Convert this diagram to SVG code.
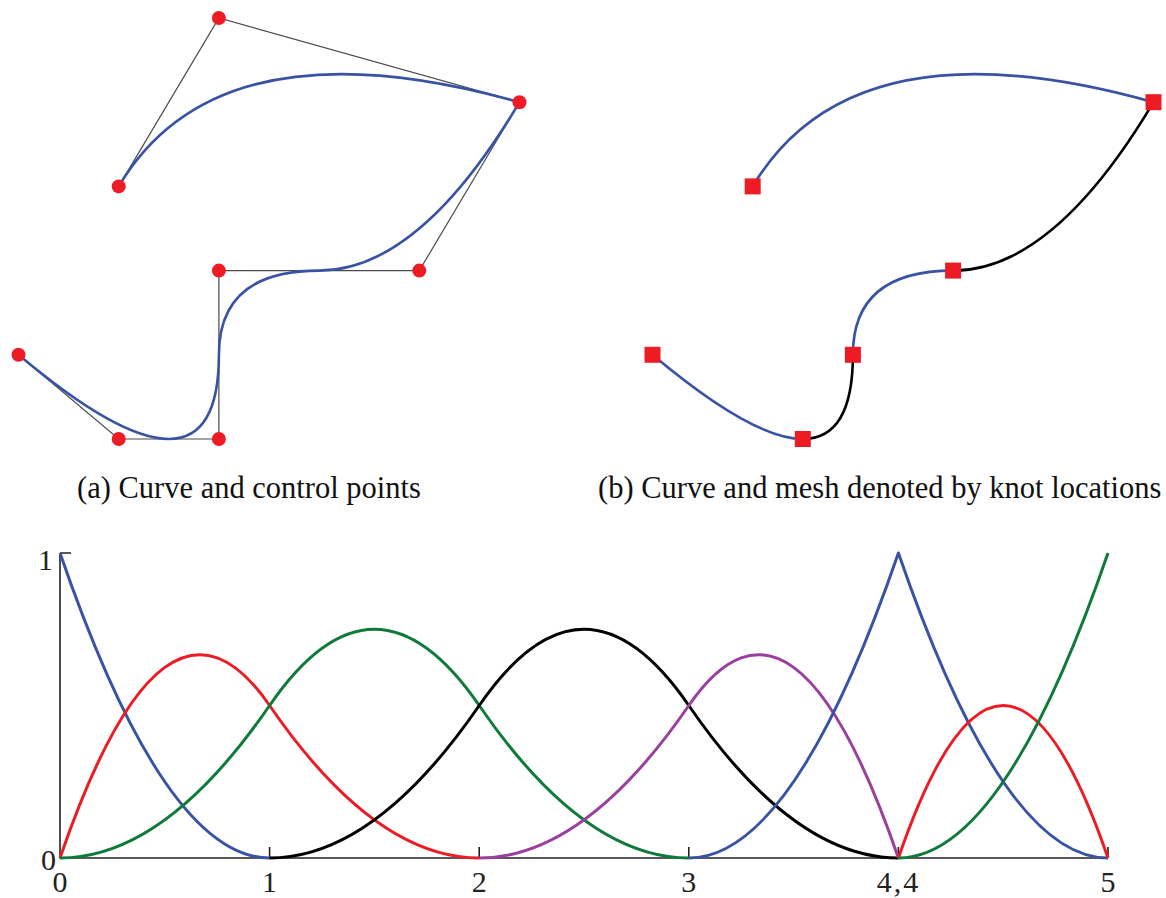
<svg xmlns="http://www.w3.org/2000/svg" width="1166" height="898" viewBox="0 0 1166 898">
<style>
.poly{fill:none;stroke:#4a4a4a;stroke-width:1.2}
.crv{fill:none;stroke:#3953a4;stroke-width:2.6;stroke-linecap:round}
.seg-b{fill:none;stroke:#000;stroke-width:2.6;stroke-linecap:round}
.pt{fill:#ed1c24}
.basis{fill:none;stroke-width:3;stroke-linejoin:round}
.axis{fill:none;stroke:#222;stroke-width:1.6}
.lbl{font-family:"Liberation Serif","Times New Roman",serif;font-size:30px;fill:#222}
.cap{font-family:"Liberation Serif","Times New Roman",serif;font-size:30.5px;fill:#111}
</style>
<rect width="1166" height="898" fill="#fff"/>

<g id="panel-a">
  <g id="control-polygon">
    <polyline class="poly" points="18.5,354.8 118.7,439 218.9,439 218.9,270.6 419.3,270.6 519.5,102.2 218.9,18 118.7,186.4"/>
  </g>
  <g id="curve-a">
    <path class="crv" d="M18.5,354.8 Q118.7,439 168.8,439 Q218.9,439 218.9,354.8 Q218.9,270.6 319.1,270.6 Q419.3,270.6 519.5,102.2 Q218.9,18 118.7,186.4"/>
  </g>
  <g id="control-points">
    <circle id="p0" class="pt" cx="18.5" cy="354.8" r="7"/>
    <circle id="p1" class="pt" cx="118.7" cy="439" r="7"/>
    <circle id="p2" class="pt" cx="218.9" cy="439" r="7"/>
    <circle id="p3" class="pt" cx="218.9" cy="270.6" r="7"/>
    <circle id="p4" class="pt" cx="419.3" cy="270.6" r="7"/>
    <circle id="p5" class="pt" cx="519.5" cy="102.2" r="7"/>
    <circle id="p6" class="pt" cx="218.9" cy="18" r="7"/>
    <circle id="p7" class="pt" cx="118.7" cy="186.4" r="7"/>
  </g>
  <text class="cap" x="77" y="498">(a) Curve and control points</text>
</g>

<g id="panel-b">
  <g id="curve-b">
    <path class="crv" d="M652.5,354.8 Q752.7,439 802.8,439"/>
    <path class="seg-b" d="M802.8,439 Q852.9,439 852.9,354.8"/>
    <path class="crv" d="M852.9,354.8 Q852.9,270.6 953.1,270.6"/>
    <path class="seg-b" d="M953.1,270.6 Q1053.3,270.6 1153.5,102.2"/>
    <path class="crv" d="M1153.5,102.2 Q852.9,18 752.7,186.4"/>
  </g>
  <g id="knots">
    <rect id="k0" class="pt" x="644.5" y="346.8" width="16" height="16"/>
    <rect id="k1" class="pt" x="794.8" y="431" width="16" height="16"/>
    <rect id="k2" class="pt" x="844.9" y="346.8" width="16" height="16"/>
    <rect id="k3" class="pt" x="945.1" y="262.6" width="16" height="16"/>
    <rect id="k4" class="pt" x="1145.5" y="94.2" width="16" height="16"/>
    <rect id="k5" class="pt" x="744.7" y="178.4" width="16" height="16"/>
  </g>
  <text class="cap" x="598" y="498">(b) Curve and mesh denoted by knot locations</text>
</g>

<g id="plot">
  <g id="axes">
    <path class="axis" d="M60,553 V858 H1108"/>
    <path class="axis" d="M60,553 H71 M269.6,858 V847 M479.2,858 V847 M688.8,858 V847 M898.4,858 V847 M1108,858 V847"/>
  </g>
  <g id="basis-functions">
    <path class="basis" stroke="#3953a4" d="M60,553 Q164.8,858 269.6,858"/>
    <path class="basis" stroke="#ed1c24" d="M60,858 Q164.8,553 269.6,705.5 Q374.4,858 479.2,858"/>
    <path class="basis" stroke="#0f7a3a" d="M60,858 Q164.8,858 269.6,705.5 Q374.4,553 479.2,705.5 Q584,858 688.8,858"/>
    <path class="basis" stroke="#000000" d="M269.6,858 Q374.4,858 479.2,705.5 Q584,553 688.8,705.5 Q793.6,858 898.4,858"/>
    <path class="basis" stroke="#9b3f9e" d="M479.2,858 Q584,858 688.8,705.5 Q793.6,553 898.4,858"/>
    <path class="basis" stroke="#3953a4" d="M688.8,858 Q793.6,858 898.4,553 Q1003.2,858 1108,858"/>
    <path class="basis" stroke="#ed1c24" d="M898.4,858 Q1003.2,553 1108,858"/>
    <path class="basis" stroke="#0f7a3a" d="M898.4,858 Q1003.2,858 1108,553"/>
  </g>
  <g id="labels">
    <text class="lbl" x="53" y="570" text-anchor="end">1</text>
    <text class="lbl" x="56" y="870" text-anchor="end">0</text>
    <text class="lbl" x="60" y="892" text-anchor="middle">0</text>
    <text class="lbl" x="269.6" y="892" text-anchor="middle">1</text>
    <text class="lbl" x="479.2" y="892" text-anchor="middle">2</text>
    <text class="lbl" x="688.8" y="892" text-anchor="middle">3</text>
    <text class="lbl" x="898.4" y="892" text-anchor="middle" letter-spacing="2">4,4</text>
    <text class="lbl" x="1108" y="892" text-anchor="middle">5</text>
  </g>
</g>
</svg>
